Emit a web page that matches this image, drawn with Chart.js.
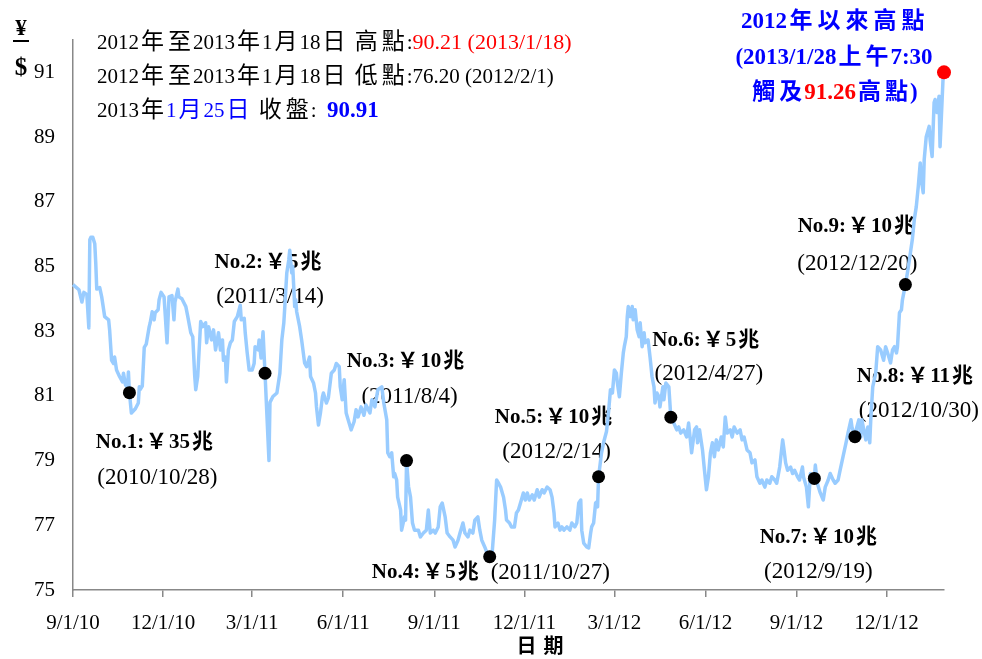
<!DOCTYPE html>
<html>
<head>
<meta charset="utf-8">
<script src="https://cdn.jsdelivr.net/npm/chart.js@4.4.1/dist/chart.umd.min.js"></script>
<style>
  html, body { margin: 0; padding: 0; background: #fff; }
</style>
</head>
<body>
<canvas id="fx-chart" width="982" height="659"></canvas>
<script>
// x axis: days since 9/1/10
const tickDates = ['2010/9/1', '2010/12/1', '2011/3/1', '2011/6/1', '2011/9/1', '2011/12/1', '2012/3/1', '2012/6/1', '2012/9/1', '2012/12/1']
const tickLabels = ['9/1/10', '12/1/10', '3/1/11', '6/1/11', '9/1/11', '12/1/11', '3/1/12', '6/1/12', '9/1/12', '12/1/12']
const yTicks = [75, 77, 79, 81, 83, 85, 87, 89, 91]

// USD/JPY
const days = [
  0, 6, 9, 11, 14, 16, 17, 18, 20, 22, 23, 24, 27, 29, 32, 36, 37, 39, 41, 42, 44, 47, 50, 51, 53, 55, 56, 57, 59,
  63, 66, 67, 68, 70, 72, 74, 77, 78, 80, 82, 83, 86, 87, 89, 92, 93, 95, 97, 100, 102, 103, 106, 107, 110, 114,
  116, 119, 121, 123, 124, 126, 129, 131, 134, 135, 137, 140, 142, 144, 147, 149, 151, 152, 154, 155, 157, 159,
  161, 163, 166, 169, 170, 173, 174, 176, 178, 181, 183, 184, 187, 188, 190, 192, 194, 198, 199, 202, 206, 209,
  211, 213, 214, 216, 218, 219, 221, 222, 224, 225, 226, 229, 231, 234, 236, 239, 240, 243, 245, 246, 248, 250,
  252, 253, 256, 258, 261, 264, 266, 269, 270, 272, 274, 276, 278, 281, 284, 286, 288, 291, 294, 296, 300, 302,
  305, 308, 312, 314, 317, 318, 320, 322, 324, 325, 327, 328, 331, 332, 335, 336, 337, 339, 341, 343, 345, 349,
  351, 354, 357, 359, 361, 364, 366, 369, 371, 373, 376, 378, 381, 384, 386, 389, 391, 394, 396, 399, 401, 404,
  406, 409, 411, 413, 416, 418, 421, 423, 426, 428, 430, 432, 435, 437, 438, 441, 443, 446, 448, 450, 453, 455,
  457, 459, 461, 464, 466, 469, 471, 474, 476, 479, 482, 484, 486, 487, 490, 492, 494, 496, 499, 502, 504, 507,
  509, 511, 513, 514, 516, 519, 521, 523, 524, 526, 528, 529, 530, 531, 534, 536, 539, 541, 543, 545, 547, 549,
  550, 552, 554, 556, 557, 559, 560, 561, 563, 565, 566, 568, 570, 572, 573, 575, 577, 578, 581, 583, 585, 587,
  588, 590, 592, 593, 596, 597, 599, 602, 604, 607, 610, 612, 614, 617, 620, 622, 624, 625, 628, 630, 631, 633,
  636, 638, 640, 642, 644, 646, 648, 650, 652, 655, 657, 659, 661, 664, 666, 668, 671, 674, 676, 678, 681, 684,
  686, 689, 691, 694, 696, 699, 701, 704, 706, 709, 711, 714, 717, 718, 720, 722, 725, 727, 729, 732, 734, 737,
  738, 741, 743, 745, 749, 750, 752, 755, 758, 760, 763, 765, 768, 770, 773, 775, 778, 781, 783, 786, 787, 790,
  792, 794, 796, 797, 799, 801, 803, 805, 806, 808, 811, 813, 816, 819, 821, 823, 826, 828, 830, 832, 833, 835,
  837, 838, 841, 843, 845, 848, 850, 852, 854, 856, 857, 859, 860, 862, 865, 866, 868, 870, 871, 873, 875, 876,
  879, 880,
]
const rates = [
  84.44, 84.28, 83.9, 84.2, 84.13, 83.1, 85.83, 85.9, 85.9, 85.7, 85.1, 84.3, 84.35, 84.06, 83.45, 83.35, 83.04,
  82.1, 82.0, 82.2, 81.8, 81.6, 81.43, 81.7, 81.34, 81.25, 81.74, 81.1, 80.47,
  80.6, 80.78, 81.28, 81.2, 81.3, 82.5, 82.6, 83.14, 83.26, 83.6, 83.35, 83.57, 83.66, 83.97, 84.2, 84.06, 83.6,
  82.64, 84.06, 84.1, 83.35, 83.9, 84.3, 84.06, 84.0, 83.76,
  83.45, 82.95, 82.83, 81.6, 81.19, 81.6, 83.3, 83.14, 83.26, 82.64, 83.14, 82.73, 83.04, 82.42, 82.95, 82.42,
  82.73, 82.1, 82.2, 81.43, 82.42, 82.64,
  82.73, 83.3, 83.45, 83.8, 83.35, 83.4, 82.95, 82.33, 81.8, 81.8, 82.0, 82.52, 82.42, 82.73, 82.17, 82.98, 81.7,
  79.0, 80.8, 80.98, 81.09, 81.7,
  82.73, 83.26, 83.76, 84.8, 85.2, 85.5, 84.8, 85.0, 83.76, 83.97, 83.6, 83.14, 82.73, 82.02, 81.9, 82.2, 81.6,
  81.4, 81.09, 80.66, 80.1, 80.47,
  80.97, 81.09, 80.78, 80.94, 81.7, 81.8, 82.0, 81.9, 81.28, 80.88, 81.5, 80.47, 80.26, 79.95, 80.2, 80.57, 80.35,
  80.66, 80.4, 80.72, 80.47, 80.88,
  80.66, 81.19, 81.28, 80.78, 80.26, 79.24, 79.12, 79.24, 78.5, 78.6, 78.4, 77.87, 77.47, 76.85, 77.26, 77.16,
  79.0, 78.2, 77.87, 77.07, 76.85, 76.85,
  76.64, 76.76, 76.85, 77.47, 76.76, 76.85, 76.76, 76.95, 77.57, 77.69, 77.26, 76.76, 76.64, 76.54, 76.33, 76.54,
  76.76, 77.07, 76.76, 76.64, 76.85, 76.76,
  77.16, 77.26, 76.85, 76.54, 76.33, 76.17, 76.03, 75.95, 77.16, 78.4, 78.3, 78.18, 77.87, 77.47, 77.16, 77.07,
  76.95, 76.95, 77.38, 77.47, 77.78, 78.0,
  77.78, 78.0, 77.78, 77.94, 77.78, 78.1, 77.87, 78.1, 78.0, 78.18, 78.1, 77.87, 77.38, 76.95, 77.07, 76.85,
  76.95, 76.85, 76.95, 76.85, 77.07, 76.95,
  77.07, 77.69, 77.78, 76.85, 76.45, 76.33, 76.3, 76.76, 76.95, 77.07, 77.69, 77.72, 77.57, 78.5, 79.24, 79.55,
  79.9, 80.47, 81.19, 81.09, 81.8, 81.7,
  81.4, 80.97, 81.7, 82.33, 82.52, 82.83, 83.45, 83.76, 83.45, 83.76, 83.35, 83.66, 83.04, 82.83, 83.26, 82.52,
  82.95, 82.64, 82.73, 82.2, 81.6, 81.28,
  80.78, 81.09, 80.97, 80.66, 81.28, 80.88, 81.4, 81.28, 80.34, 80.16, 79.95, 80.04, 79.85, 79.95, 79.73, 80.16,
  79.55, 79.24, 79.95, 80.04, 79.55, 79.95,
  79.33, 78.7, 78.1, 78.5, 79.24, 79.55, 79.12, 79.64, 79.33, 79.73, 79.42, 80.35, 79.85, 79.95, 79.73, 80.04,
  79.85, 79.95, 79.64, 79.73, 79.33, 79.24,
  78.93, 79.02, 78.5, 78.3, 78.4, 78.18, 78.4, 78.3, 78.5, 78.4, 78.3, 78.8, 79.64, 79.42, 78.93, 78.7, 78.8,
  78.6, 78.7, 78.5, 78.4, 78.8,
  78.5, 78.18, 77.57, 78.6, 78.45, 78.86, 78.3, 78.0, 77.78, 78.18, 78.4, 78.6, 78.4, 78.3, 78.4, 78.7, 79.12,
  79.55, 79.85, 80.26, 80.04, 79.74,
  80.04, 80.26, 79.73, 80.26, 79.95, 79.64, 80.04, 79.55, 80.26, 81.28, 81.7, 82.52, 82.42, 82.1, 82.52, 82.33,
  82.02, 82.42, 82.52, 82.33, 82.52, 83.57,
  83.66, 83.97, 84.44, 84.8, 85.2, 85.83, 86.45, 86.85, 87.47, 88.2, 87.7, 87.28, 88.3, 89.0, 89.33, 88.9, 88.4,
  90.07, 90.16, 89.76, 90.26, 88.7,
  90.78, 91.0,
]

// intervention points
const interventionNames = ['No.1:￥35兆', 'No.2:￥5兆', 'No.3:￥10兆', 'No.4:￥5兆', 'No.5:￥10兆', 'No.6:￥5兆', 'No.7:￥10兆', 'No.8:￥11兆', 'No.9:￥10兆']
const interventionDates = ['2010/10/28', '2011/3/14', '2011/8/4', '2011/10/27', '2012/2/14', '2012/4/27', '2012/9/19', '2012/10/30', '2012/12/20']
const interventionRates = [81.1, 81.7, 79.0, 76.03, 78.5, 80.34, 78.45, 79.74, 84.44]

const highDate = '2013/1/28'
const highRate = 91.0

const serif = '"Liberation Serif", "Times New Roman", "Noto Sans CJK TC", serif'
const blue = '#0000ff'
const red = '#ff0000'

// label placement relative to each dot: [dx, dy] for name, [dx, dy] for date
const labelOffsets = [
  [26, 50, 28, 85], [4, -111, 5, -76], [0, -99, 3, -64], [-9, 16, 1, 16], [-44, -59, -42, -25],
  [36, -77, 38, -43], [5, 59, 4, 94], [61, -60, 64, -26], [-48, -58, -48, -21],
]

const dayOf = (s) => {
  const [y, m, d] = s.split('/').map(Number)
  return (Date.UTC(y, m - 1, d) - Date.UTC(2010, 8, 1)) / 86400000
}

const cjk = /([\u2E80-\u9FFF\uFF00-\uFFEF]+)/
// parts: [text, color, weight, size, gap between CJK glyphs, CJK size]
const runs = (ctx, x, y, parts, align) => {
  const pieces = []
  parts.forEach(([text, color, weight, size, gap, cjkSize]) => {
    text.split(cjk).filter(Boolean).forEach((t) => {
      const isCjk = cjk.test(t)
      const sz = isCjk && cjkSize ? cjkSize : size
      pieces.push({ t, color, font: `${weight} ${sz}px ${serif}`, gap: isCjk ? gap || 0 : 0 })
    })
  })
  const widths = pieces.map((p) => {
    ctx.font = p.font
    ctx.letterSpacing = p.gap + 'px'
    return ctx.measureText(p.t).width
  })
  const total = widths.reduce((a, b) => a + b, 0)
  let cx = align === 'center' ? x - total / 2 : align === 'right' ? x - total : x
  ctx.textAlign = 'left'
  ctx.textBaseline = 'middle'
  pieces.forEach((p, i) => {
    ctx.font = p.font
    ctx.letterSpacing = p.gap + 'px'
    ctx.fillStyle = p.color
    // centre the spacing around each glyph
    ctx.fillText(p.t, cx + p.gap / 2, y)
    cx += widths[i]
  })
  ctx.letterSpacing = '0px'
}

const textPlugin = {
  id: 'texts',
  beforeDatasetsDraw(chart) {
    const { ctx, scales } = chart
    ctx.save()
    interventionNames.forEach((name, i) => {
      const px = scales.x.getPixelForValue(dayOf(interventionDates[i]))
      const py = scales.y.getPixelForValue(interventionRates[i])
      const [nx, ny, dx, dy] = labelOffsets[i]
      const nameRun = [[name, '#000', 'bold', 21, 4]]
      const dateRun = [[`(${interventionDates[i]})`, '#000', 'normal', 23, 0]]
      if (i === 3) {
        runs(ctx, px + nx, py + ny, nameRun, 'right')
        runs(ctx, px + dx, py + dy, dateRun, 'left')
      } else {
        runs(ctx, px + nx, py + ny, nameRun, 'center')
        runs(ctx, px + dx, py + dy, dateRun, 'center')
      }
    })
    ctx.restore()
  },
  afterDraw(chart) {
    const { ctx } = chart
    ctx.save()
    runs(ctx, 97, 43, [['2012年至2013年1月18日 高點:', '#000', 'normal', 21, 4, 23], ['90.21 (2013/1/18)', red, 'normal', 22, 0]], 'left')
    runs(ctx, 97, 77, [['2012年至2013年1月18日 低點:76.20 (2012/2/1)', '#000', 'normal', 21, 4, 23]], 'left')
    runs(ctx, 97, 111, [['2013年', '#000', 'normal', 21, 4, 23], ['1月25日', blue, 'normal', 21, 4, 23], [' 收盤:  ', '#000', 'normal', 21, 4, 23], ['90.91', blue, 'bold', 23, 0]], 'left')

    runs(ctx, 834, 22, [['2012年以來高點', blue, 'bold', 23, 5]], 'center')
    runs(ctx, 834, 58, [['(2013/1/28上午7:30', blue, 'bold', 23, 4]], 'center')
    runs(ctx, 834, 93, [['觸及', blue, 'bold', 23, 4], ['91.26', red, 'bold', 23, 0], ['高點)', blue, 'bold', 23, 4]], 'center')

    // y unit
    runs(ctx, 21, 29, [['¥', '#000', 'bold', 23, 0]], 'center')
    ctx.fillStyle = '#000'
    ctx.fillRect(13, 40, 16, 2)
    runs(ctx, 21, 69, [['$', '#000', 'bold', 25, 0]], 'center')

    // x title
    runs(ctx, 540, 648, [['日 期', '#000', 'bold', 20, 2]], 'center')
    ctx.restore()
  },
}

const config = {
  type: 'line',
  data: {
    datasets: [
      {
        label: 'high',
        data: [{ x: dayOf(highDate), y: highRate }],
        showLine: false,
        pointRadius: 7,
        pointBackgroundColor: red,
        pointBorderWidth: 0,
        clip: false,
      },
      {
        label: 'intervention',
        data: interventionDates.map((d, i) => ({ x: dayOf(d), y: interventionRates[i] })),
        showLine: false,
        pointRadius: 6.5,
        pointBackgroundColor: '#000',
        pointBorderWidth: 0,
      },
      {
        label: 'USD/JPY',
        data: days.map((d, i) => ({ x: d, y: rates[i] })),
        borderColor: '#99ccff',
        borderWidth: 3.5,
        borderJoinStyle: 'round',
        pointRadius: 0,
        tension: 0,
        clip: false,
      },
    ],
  },
  options: {
    responsive: false,
    animation: false,
    layout: { padding: { top: 40, right: 38, left: 0, bottom: 0 } },
    plugins: {
      legend: { display: false },
      tooltip: { enabled: false },
    },
    scales: {
      x: {
        type: 'linear',
        min: 0,
        max: 880,
        afterBuildTicks: (axis) => {
          axis.ticks = tickDates.map((d) => ({ value: dayOf(d) }))
        },
        afterFit: (axis) => {
          axis.height = 69
        },
        ticks: {
          callback: (v, i) => tickLabels[i],
          autoSkip: false,
          maxRotation: 0,
          padding: 14,
          color: '#000',
          font: { family: serif, size: 21 },
        },
        grid: { drawOnChartArea: false, drawTicks: true, tickLength: 7, color: '#888', lineWidth: 1.5 },
        border: { color: '#888', width: 1.5 },
      },
      y: {
        min: 75,
        max: 92,
        afterBuildTicks: (axis) => {
          axis.ticks = yTicks.map((v) => ({ value: v }))
        },
        afterFit: (axis) => {
          axis.width = 73
        },
        ticks: {
          padding: 18,
          color: '#000',
          font: { family: serif, size: 21 },
        },
        grid: { drawOnChartArea: false, drawTicks: false },
        border: { color: '#888', width: 1.5 },
      },
    },
  },
  plugins: [textPlugin],
}

new Chart(document.getElementById('fx-chart'), config)
</script>
</body>
</html>
